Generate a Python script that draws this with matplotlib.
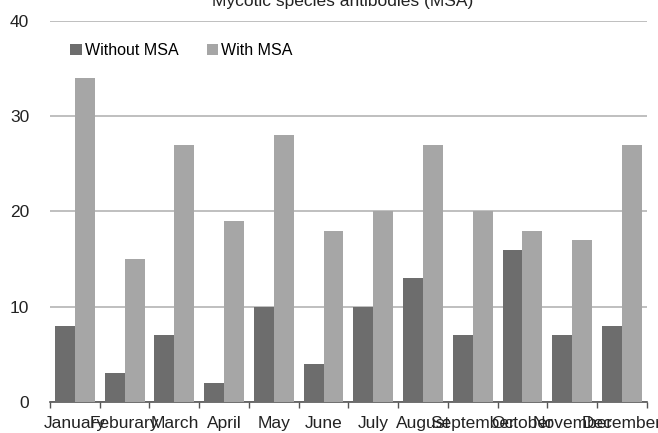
import numpy as np
import matplotlib.pyplot as plt

months = ["January", "Feburary", "March", "April", "May", "June", "July",
          "August", "September", "October", "November", "December"]
without_msa = [8, 3, 7, 2, 10, 4, 10, 13, 7, 16, 7, 8]
with_msa = [34, 15, 27, 19, 28, 18, 20, 27, 20, 18, 17, 27]

plt.rcParams['font.family'] = ['Liberation Sans', 'DejaVu Sans']

fig = plt.figure(figsize=(6.58, 4.33), dpi=100)
ax = fig.add_axes([0.076, 0.0716, 0.907, 0.88])

x = np.arange(len(months))
w = 0.4
ax.bar(x - w / 2, without_msa, w, color="#6d6d6d", label="Without MSA", zorder=3)
ax.bar(x + w / 2, with_msa, w, color="#a6a6a6", label="With MSA", zorder=3)

ax.set_xlim(-0.5, len(months) - 0.5)
ax.set_ylim(0, 40)
ax.set_yticks([0, 10, 20, 30, 40])
ax.yaxis.grid(True, color="#b4b4b4", linewidth=1.2, zorder=0)
ax.tick_params(axis="y", length=0, pad=15, labelsize=12.5, labelcolor="#222222")

# boundaries get tick marks, centres get the labels
ax.set_xticks(np.arange(len(months) + 1) - 0.5)
ax.set_xticklabels([])
ax.set_xticks(x, minor=True)
ax.set_xticklabels(months, minor=True, fontsize=12.5, color="#222222")
ax.tick_params(axis="x", which="major", length=4, width=1, color="#555555", direction="out")
ax.tick_params(axis="x", which="minor", length=0, pad=10)

for s in ["top", "right", "left"]:
    ax.spines[s].set_visible(False)
ax.spines["bottom"].set_color("#555555")
ax.spines["bottom"].set_linewidth(1.2)

ax.legend(loc="upper left", bbox_to_anchor=(0.01, 0.98), frameon=False, ncol=2,
          fontsize=11.5, handlelength=0.7, handleheight=0.7, handletextpad=0.2,
          columnspacing=1.8)

fig.text(0.52, 0.997, "Mycotic species antibodies (MSA)", ha="center", va="center",
         fontsize=12.5, color="#222222")

fig.savefig("out.png", dpi=100)
